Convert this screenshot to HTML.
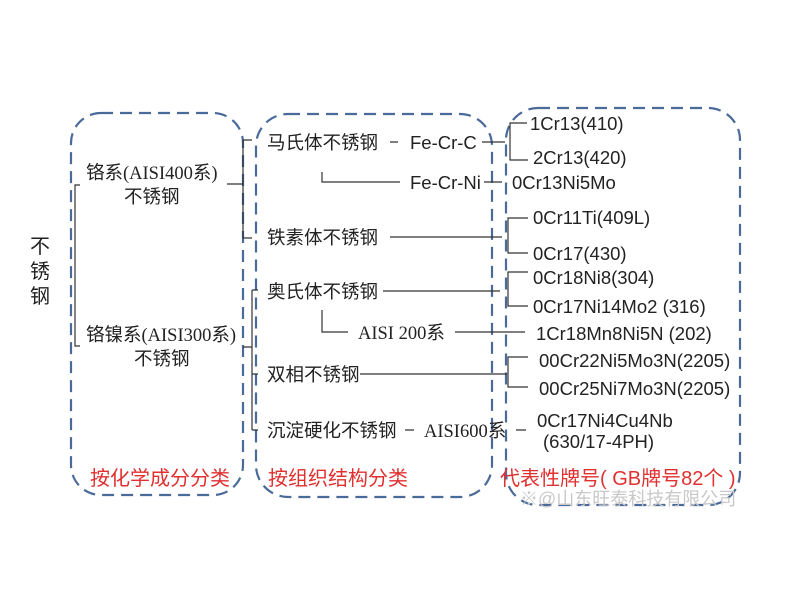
<!DOCTYPE html>
<html><head><meta charset="utf-8"><style>
body{margin:0;background:#fff;}
svg text{font-family:"Liberation Sans","Noto Sans CJK SC",sans-serif;fill:#222;}
.s{font-family:"Liberation Serif","Noto Sans CJK SC",serif;}
</style></head><body>
<svg width="800" height="600" xmlns="http://www.w3.org/2000/svg">
<g fill="none" stroke="#4a6a9a" stroke-width="2.2" stroke-dasharray="12,7">
<rect x="71" y="113" width="172" height="382" rx="30"/>
<rect x="256" y="114" width="236" height="383" rx="32"/>
<rect x="506" y="108" width="234" height="397" rx="32"/>
</g>
<g stroke="#333" stroke-width="1.2" fill="none">
<path d="M80 185 H75 V346 H80"/>
<path d="M227 184 H243 M243 140 V238 M243 140 H252 M243 238 H252"/>
<path d="M243 347 H252 M252 290 V430 M252 290 H258 M252 374 H258 M252 430 H258"/>
<path d="M390 142 H398 M482 142 H505"/>
<path d="M322 172 V182 H400 M484 182 H502"/>
<path d="M390 237 H502"/>
<path d="M383 291 H500"/>
<path d="M322 310 V332 H348 M455 332 H525"/>
<path d="M360 374 H507"/>
<path d="M405 430 H414 M516 430 H526"/>
<path d="M527 123 H510 V160 H528"/>
<path d="M528 218 H508 V253 H528"/>
<path d="M528 272 H508 V306 H528"/>
<path d="M528 357 H508 V387 H528"/>
</g>
<text x="30" y="253" font-size="20">不</text>
<text x="30" y="278" font-size="20">锈</text>
<text x="30" y="303" font-size="20">钢</text>
<text class="s" x="86" y="179" font-size="18.5">铬系(AISI400系)</text>
<text class="s" x="124" y="203" font-size="18.5">不锈钢</text>
<text class="s" x="86" y="341" font-size="18.5">铬镍系(AISI300系)</text>
<text class="s" x="134" y="365" font-size="18.5">不锈钢</text>
<g font-size="18.5">
<text x="267" y="149">马氏体不锈钢</text>
<text x="410" y="149">Fe-Cr-C</text>
<text x="410" y="189">Fe-Cr-Ni</text>
<text x="267" y="244">铁素体不锈钢</text>
<text x="267" y="298">奥氏体不锈钢</text>
<text class="s" x="358" y="339">AISI 200系</text>
<text x="267" y="381">双相不锈钢</text>
<text x="267" y="437">沉淀硬化不锈钢</text>
<text class="s" x="424" y="437">AISI600系</text>
<text x="530" y="130">1Cr13(410)</text>
<text x="533" y="164">2Cr13(420)</text>
<text x="512" y="189">0Cr13Ni5Mo</text>
<text x="533" y="224">0Cr11Ti(409L)</text>
<text x="533" y="260">0Cr17(430)</text>
<text x="533" y="284">0Cr18Ni8(304)</text>
<text x="533" y="313">0Cr17Ni14Mo2 (316)</text>
<text x="536" y="340">1Cr18Mn8Ni5N (202)</text>
<text x="539" y="367">00Cr22Ni5Mo3N(2205)</text>
<text x="539" y="395">00Cr25Ni7Mo3N(2205)</text>
<text x="537" y="427">0Cr17Ni4Cu4Nb</text>
<text x="543" y="448">(630/17-4PH)</text>
</g>
<g font-size="20">
<text x="90" y="485" style="fill:#e03030">按化学成分分类</text>
<text x="268" y="485" style="fill:#e03030">按组织结构分类</text>
<text x="500" y="485" style="fill:#e03030">代表性牌号( GB牌号82个 )</text>
</g>
<text x="520" y="505" font-size="18" style="fill:#c8c8c8">※@山东旺泰科技有限公司</text>
</svg>
</body></html>
